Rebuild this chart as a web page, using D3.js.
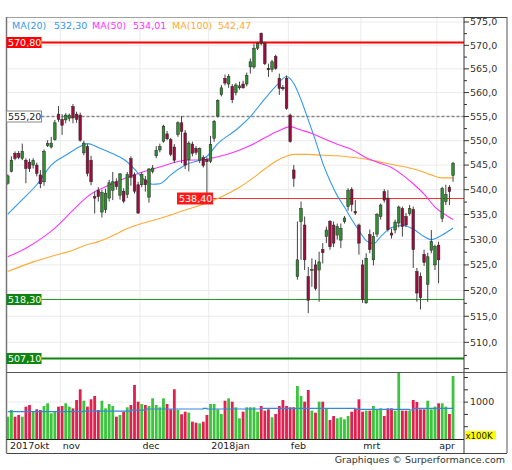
<!DOCTYPE html>
<html>
<head>
<meta charset="utf-8">
<script src="https://cdn.jsdelivr.net/npm/d3@7"></script>
<style>
body{margin:0;background:#fff}
svg{display:block;font-family:"DejaVu Sans",Verdana,sans-serif}
</style>
</head>
<body>
<div id="container"></div>
<script>
// daily candles, 11 okt 2017 .. 9 apr 2018 (index = trading day)
const opens = [541.3,543.7,547.4,547.4,546.4,546.0,545.6,545.0,545.0,543.0,541.6,549.0,548.7,550.2,555.5,554.4,554.3,554.6,557.1,555.5,
555.3,547.5,548.8,546.0,538.6,539.9,535.5,536.0,538.3,539.9,541.6,538.9,539.7,539.0,546.3,543.0,541.0,541.0,542.0,538.5,
543.7,546.9,548.1,549.9,551.4,550.2,548.7,551.3,553.7,551.6,546.1,549.3,548.4,546.0,546.5,546.1,545.8,550.5,555.1,559.6,
563.0,561.8,561.3,560.0,561.0,561.8,561.8,565.4,565.4,569.4,572.6,570.4,565.1,564.9,567.6,563.0,561.1,563.0,555.3,544.0,
522.7,533.6,532.9,522.7,524.0,525.0,524.0,528.0,530.6,533.6,532.9,530.9,529.9,533.6,536.6,540.0,535.6,532.9,525.0,517.6,
531.0,526.0,531.1,534.6,539.6,538.3,531.3,531.9,533.3,536.2,534.6,535.2,536.0,523.7,522.7,527.1,521.2,527.9,525.0,528.9,
534.2,537.6,540.5,542.9];
const highs = [543.1,546.8,547.8,547.9,549.4,546.4,546.3,546.4,545.5,544.0,548.2,550.1,550.8,554.3,557.2,555.5,555.7,555.6,557.6,556.0,
555.8,550.0,549.3,546.9,539.6,540.5,540.0,540.2,542.0,543.6,542.3,543.4,540.3,543.6,546.8,543.5,541.6,543.6,542.8,544.4,
545.0,548.9,549.4,553.3,552.0,550.6,549.3,554.0,555.1,552.2,549.9,549.8,548.9,548.6,547.0,546.6,551.0,554.3,558.6,561.6,
563.8,563.9,561.8,562.0,562.3,562.5,564.2,567.2,570.4,570.8,572.7,570.8,566.1,566.9,568.0,564.0,561.6,563.6,555.6,545.0,
533.6,537.6,534.6,524.6,526.3,526.0,527.6,529.3,532.6,533.9,533.6,533.2,533.2,534.7,540.3,540.5,537.9,533.2,526.0,527.3,
532.0,531.5,535.3,537.2,540.1,539.9,532.2,534.0,536.8,536.6,535.3,536.9,536.6,524.4,523.5,528.0,527.4,531.9,529.0,529.6,
540.6,541.0,540.9,545.6];
const lows = [541.0,543.5,546.0,546.2,546.0,541.3,543.6,544.3,542.7,540.3,540.8,548.7,548.4,550.0,553.9,551.2,553.6,554.0,553.6,553.7,
549.8,547.0,542.7,540.9,535.2,537.6,534.4,535.3,537.6,537.9,540.0,538.0,537.3,538.3,540.8,539.2,535.1,540.5,539.6,537.4,
543.3,546.4,547.6,549.6,550.1,546.8,545.4,550.8,545.4,544.2,543.7,546.8,547.1,545.4,544.5,538.3,545.4,549.8,554.8,559.2,
561.5,561.0,557.8,559.4,560.6,560.8,561.3,564.0,565.0,569.0,570.0,565.8,563.3,564.3,564.8,559.5,560.4,556.4,549.6,540.6,
522.1,526.0,524.0,515.6,520.7,520.0,517.8,525.3,529.3,528.0,528.5,530.0,528.3,533.2,535.8,535.6,534.9,527.0,517.6,517.4,
527.3,524.9,530.5,534.0,537.4,531.6,530.2,531.2,532.4,530.6,532.5,534.8,524.4,517.8,516.3,524.8,517.8,527.3,524.0,521.4,
533.5,536.9,536.9,541.6];
const closes = [542.8,546.0,546.4,546.6,547.8,544.3,544.3,545.9,543.3,541.2,547.8,549.4,549.5,553.7,554.4,553.2,555.3,555.3,554.7,554.4,
550.1,549.5,543.3,541.6,538.3,538.6,539.4,539.3,541.4,541.6,540.6,543.2,537.7,543.1,542.5,539.7,535.3,543.1,541.0,544.2,
544.4,548.0,548.8,553.0,550.4,547.2,546.0,553.7,551.9,545.0,549.5,547.4,547.6,548.4,544.9,545.7,549.2,554.0,558.3,561.0,
562.0,563.4,558.5,561.6,561.4,561.0,563.6,566.5,569.4,570.4,570.4,566.1,564.8,566.5,565.1,560.9,560.8,556.7,549.8,542.3,
526.0,536.2,526.0,518.1,524.1,520.4,525.6,527.4,531.9,528.6,529.3,532.6,532.2,534.3,539.9,537.0,535.3,529.3,518.3,526.3,
528.0,530.6,535.0,536.9,537.9,532.0,530.9,533.5,536.5,532.6,532.9,536.2,528.0,519.5,518.6,525.5,526.6,529.6,528.6,526.0,
540.3,539.0,539.6,545.4];
// volume in x100K
const volumes = [763,872,763,790,763,926,953,844,883,872,937,981,818,844,926,937,981,926,899,1035,
1209,1023,926,1046,1100,872,1023,899,969,937,763,790,844,916,953,1279,1007,969,953,937,
1062,953,916,1062,969,883,1209,872,802,844,830,682,665,655,682,790,969,969,883,807,
1023,1062,1007,916,737,844,916,916,916,844,937,861,883,753,807,937,1035,937,916,916,
1262,1100,1007,1197,861,828,1007,1007,899,709,774,737,753,720,774,844,899,1046,844,861,
861,937,872,899,774,899,899,861,1520,861,861,861,1035,1002,883,883,1023,883,926,981,
981,926,807,1425];

// moving averages: [day index, value]
const ma20 = [[0,535.1],[4,538.0],[8,541.0],[12,545.0],[16,547.0],[20,548.8],[22,549.4],[25,548.6],[29,547.3],[32,546.2],
[35,544.2],[37,542.5],[40,541.1],[42,541.2],[45,543.0],[49,545.0],[55,546.8],[58,549.4],[63,552.2],[67,555.0],
[71,558.7],[74,561.3],[77,563.4],[79,561.9],[81,558.5],[83,554.3],[85,550.0],[87,545.4],[89,541.8],[91,538.8],
[93,536.5],[95,534.0],[97,531.8],[99,529.8],[101,529.2],[103,530.6],[106,532.4],[109,532.8],[112,532.1],[115,530.6],
[117,530.0],[120,530.9],[123,532.3]];
const ma50 = [[0,526.6],[5,528.3],[10,530.6],[13,532.3],[16,534.4],[19,536.6],[22,538.6],[24,539.6],[27,540.6],[31,541.9],
[36,543.3],[42,544.6],[49,546.0],[54,546.1],[58,546.7],[63,547.8],[67,549.0],[71,550.6],[75,552.1],[78,552.9],
[81,552.2],[84,551.5],[88,550.2],[92,549.0],[95,548.2],[99,546.5],[102,545.6],[106,544.5],[109,543.0],[112,541.2],
[115,539.1],[118,536.5],[121,534.9],[123,534.0]];
const ma100 = [[0,523.7],[7,525.6],[13,526.9],[18,527.9],[21,528.8],[25,529.6],[29,530.8],[33,532.2],[37,533.2],[41,534.0],
[45,534.9],[49,535.9],[53,536.8],[57,537.9],[61,539.3],[64,540.5],[68,542.5],[71,544.2],[74,545.8],[77,546.8],
[79,547.2],[83,547.2],[87,547.0],[91,546.9],[95,546.6],[99,546.2],[103,545.6],[107,545.0],[111,544.4],[114,543.8],
[117,543.0],[120,542.4],[123,542.4]];
const volMa = [[0,844],[21,855],[34,870],[38,888],[54,899],[55,888],[70,899],[96,883],[111,872],[112,899],[123,899]];

const months = [["2017okt",0],["nov",15],["dec",37],["2018jan",56],["feb",78],["mrt",98],["apr",119]];
const levels = [
  {v:570.80, txt:"570,80", kind:"red"},
  {v:555.20, txt:"555,20", kind:"dash"},
  {v:518.30, txt:"518,30", kind:"green"},
  {v:507.10, txt:"507,10", kind:"green2"}
];
const support = {v:538.40, txt:"538,40"};
const legend = [["MA(20)","532,30","#3399ee"],["MA(50)","534,01","#ff33ff"],["MA(100)","542,47","#ffaa33"]];

const L = 6.5, R = 464, T = 17, PB = 372, VB = 439, FB = 453, FR = 507;
const step = 3.62;

let svg = d3.select("#container").append("svg")
  .attr("width", 512).attr("height", 470);

const x = d3.scaleLinear().domain([0, 123]).range([7.8, 7.8 + 123 * step]);
const y = d3.scaleLog().domain([504.36, 576.08]).range([PB, T]);
const yv = d3.scaleLinear().domain([400, 1490]).range([VB, PB]);

const defs = svg.append("defs");
defs.append("clipPath").attr("id", "cp").append("rect")
  .attr("x", L).attr("y", T).attr("width", R - L).attr("height", PB - T);
defs.append("clipPath").attr("id", "cv").append("rect")
  .attr("x", L).attr("y", PB).attr("width", R - L).attr("height", VB - PB);

// grid
const grid = svg.append("g").attr("stroke", "#ebebeb").attr("stroke-width", 1);
d3.range(510, 576, 5).forEach(p => {
  grid.append("line").attr("x1", L).attr("x2", R).attr("y1", y(p)).attr("y2", y(p));
});
grid.append("line").attr("x1", L).attr("x2", R).attr("y1", yv(1000)).attr("y2", yv(1000));
months.slice(1).forEach(m => {
  const gx = x(m[1]) - step / 2;
  grid.append("line").attr("x1", gx).attr("x2", gx).attr("y1", T).attr("y2", VB);
});

// level lines
const lv = svg.append("g");
levels.forEach(l => {
  const ly = Math.round(y(l.v)) + 0.5;
  const ln = lv.append("line").attr("x1", L + 35).attr("x2", R).attr("y1", ly).attr("y2", ly);
  if (l.kind == "red") ln.attr("stroke", "#ff0000").attr("stroke-width", 2);
  else if (l.kind == "dash") ln.attr("stroke", "#888").attr("stroke-width", 1.5).attr("stroke-dasharray", "3,2");
  else if (l.kind == "green") ln.attr("stroke", "#22a022").attr("stroke-width", 1);
  else ln.attr("stroke", "#0f850f").attr("stroke-width", 2.2);
});
const sy = Math.round(y(support.v)) + 0.5;
lv.append("line").attr("x1", 213).attr("x2", R).attr("y1", sy).attr("y2", sy)
  .attr("stroke", "#ff3030").attr("stroke-width", 1.2);

// moving averages
const maLine = d3.line().x(d => x(d[0])).y(d => y(d[1])).curve(d3.curveMonotoneX);
const mg = svg.append("g").attr("clip-path", "url(#cp)").attr("fill", "none");
mg.append("path").attr("d", maLine(ma100)).attr("stroke", "#ffaa33").attr("stroke-width", 1.1);
mg.append("path").attr("d", maLine(ma50)).attr("stroke", "#ff33ff").attr("stroke-width", 1.1);
mg.append("path").attr("d", maLine(ma20)).attr("stroke", "#3399ee").attr("stroke-width", 1.1);

// candles
const days = d3.range(opens.length);
const cg = svg.append("g").attr("clip-path", "url(#cp)");
cg.selectAll("line.wick").data(days).enter().append("line")
  .attr("class", "wick")
  .attr("x1", i => x(i)).attr("x2", i => x(i))
  .attr("y1", i => y(highs[i])).attr("y2", i => y(lows[i]))
  .attr("stroke", "#444").attr("stroke-width", 1);
cg.selectAll("rect.body").data(days).enter().append("rect")
  .attr("class", "body")
  .attr("x", i => x(i) - 1.3).attr("width", 2.6)
  .attr("y", i => y(Math.max(opens[i], closes[i])))
  .attr("height", i => Math.max(1, Math.abs(y(opens[i]) - y(closes[i]))))
  .attr("fill", i => closes[i] >= opens[i] ? "#2f8f2f" : "#9c0c3c")
  .attr("stroke", "#222").attr("stroke-width", 0.5);

// volume
const vg = svg.append("g").attr("clip-path", "url(#cv)");
vg.selectAll("rect").data(days).enter().append("rect")
  .attr("x", i => x(i) - 1.4).attr("width", 2.8)
  .attr("y", i => yv(volumes[i]))
  .attr("height", i => VB - yv(volumes[i]))
  .attr("fill", i => closes[i] >= opens[i] ? "#3cc43c" : "#e0204f");
vg.append("path")
  .attr("d", d3.line().x(d => x(d[0])).y(d => yv(d[1])).curve(d3.curveStepAfter)(volMa))
  .attr("fill", "none").attr("stroke", "#3388dd").attr("stroke-width", 1.2);

// frame
const fr = svg.append("g").attr("fill", "none");
fr.append("line").attr("x1", L).attr("x2", R).attr("y1", T + 0.5).attr("y2", T + 0.5)
  .attr("stroke", "#444").attr("stroke-dasharray", "1,1");
fr.append("line").attr("x1", R).attr("x2", FR).attr("y1", T + 0.5).attr("y2", T + 0.5).attr("stroke", "#444");
fr.append("line").attr("x1", L).attr("x2", L).attr("y1", T).attr("y2", FB).attr("stroke", "#777").attr("stroke-width", 1.5);
fr.append("line").attr("x1", FR).attr("x2", FR).attr("y1", T).attr("y2", FB).attr("stroke", "#555");
fr.append("line").attr("x1", R).attr("x2", R).attr("y1", T).attr("y2", FB).attr("stroke", "#333");
fr.append("line").attr("x1", L).attr("x2", FR).attr("y1", PB + 0.5).attr("y2", PB + 0.5).attr("stroke", "#555");
fr.append("line").attr("x1", L).attr("x2", R).attr("y1", VB + 0.5).attr("y2", VB + 0.5).attr("stroke", "#222");
fr.append("line").attr("x1", L).attr("x2", FR).attr("y1", FB + 0.5).attr("y2", FB + 0.5).attr("stroke", "#444");

// price axis
const ax = svg.append("g").attr("font-size", "9.5px").attr("fill", "#333");
d3.range(505, 576, 2.5).forEach(p => {
  const py = y(p);
  const major = p % 5 == 0;
  ax.append("line").attr("x1", R).attr("x2", R + (major ? 5 : 3)).attr("y1", py).attr("y2", py)
    .attr("stroke", "#333");
  if (major && p >= 510) {
    ax.append("text").attr("x", R + 6).attr("y", py).attr("dy", "0.35em")
      .text(p.toFixed(1).replace(".", ","));
  }
});
[600, 800, 1000, 1200, 1400].forEach(v => {
  ax.append("line").attr("x1", R).attr("x2", R + 4).attr("y1", yv(v)).attr("y2", yv(v)).attr("stroke", "#333");
});
ax.append("text").attr("x", R + 6).attr("y", yv(1000)).attr("dy", "0.35em").text("1000");
svg.append("rect").attr("x", 465).attr("y", 431).attr("width", 31).attr("height", 8.5).attr("fill", "#ffff00");
svg.append("text").attr("x", 465.5).attr("y", 438.6).attr("font-size", "8.6px").attr("fill", "#222").text("x100K");

// date labels
const dl = svg.append("g").attr("font-size", "9.5px").attr("fill", "#222");
months.forEach((m, k) => {
  const lx = k == 0 ? 10 : x(m[1]) - step / 2 + 2.5;
  dl.append("text").attr("x", lx).attr("y", 449).text(m[0]);
});

// level labels
const lb = svg.append("g").attr("font-size", "9.5px");
levels.forEach(l => {
  const ly = Math.round(y(l.v)) + 0.5;
  const bg = l.kind == "red" ? "#ff0000" : (l.kind == "dash" ? "#fff" : "#0f850f");
  lb.append("rect").attr("x", L).attr("y", ly - 5.5).attr("width", 35).attr("height", 11)
    .attr("fill", bg).attr("stroke", l.kind == "dash" ? "#888" : "none");
  lb.append("text").attr("x", L + 1.5).attr("y", ly).attr("dy", "0.36em")
    .attr("fill", l.kind == "dash" ? "#222" : "#fff").text(l.txt);
});
lb.append("rect").attr("x", 177).attr("y", sy - 6).attr("width", 36).attr("height", 12).attr("fill", "#ff1a1a");
lb.append("text").attr("x", 179).attr("y", sy).attr("dy", "0.36em").attr("fill", "#fff").text(support.txt);

// legend
const lg = svg.append("g").attr("font-size", "9.5px");
const lx = [[12, 54], [92, 133], [172, 218]];
legend.forEach((d, k) => {
  lg.append("text").attr("x", lx[k][0]).attr("y", 28.5).attr("fill", d[2]).text(d[0]);
  lg.append("text").attr("x", lx[k][1]).attr("y", 28.5).attr("fill", d[2]).text(d[1]);
});

svg.append("text").attr("x", 505).attr("y", 463).attr("text-anchor", "end")
  .attr("font-size", "9.5px").attr("fill", "#333").text("Graphiques © Surperformance.com");
</script>
</body>
</html>
